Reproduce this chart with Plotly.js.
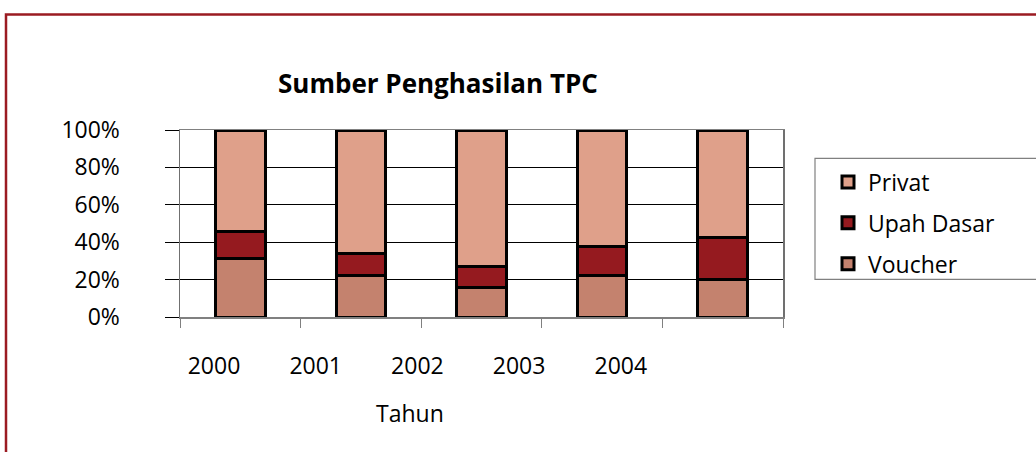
<!DOCTYPE html>
<html><head><meta charset="utf-8">
<script src="https://cdn.plot.ly/plotly-3.0.1.min.js"></script>
<style>html,body{margin:0;padding:0;background:#fff}#chart{width:1036px;height:452px}</style>
</head><body><div id="chart"></div>
<script>
const years = ['2000','2001','2002','2003','2004'];
const voucher = [31.5, 22.3, 16.0, 22.3, 20.0];
const upahDasar = [14.3, 11.9, 11.1, 15.6, 22.4];
const privat = [54.2, 65.8, 72.9, 62.1, 57.6];
const seriesNames = ['Voucher', 'Upah Dasar', 'Privat'];
const seriesColors = ['#C4826E', '#951A1F', '#DFA08A'];
const yTicks = [0, 20, 40, 60, 80, 100];

const W = 1036, H = 452;
const L = 180, R = 783, T = 129.5, B = 316.7;
const px = x => (x - L) / (R - L);
const py = y => (B - y) / (B - T);
const FONT = 'Open Sans, Noto Sans, sans-serif';
const FS = 23;

const values = [voucher, upahDasar, privat];
const traces = values.map((v, i) => ({
  type: 'bar', x: years, y: v, name: seriesNames[i], legendgroup: 'g' + i, legendrank: 3 - i,
  marker: {color: seriesColors[i], line: {color: '#000', width: 3}},
  width: 0.41, hoverinfo: 'x+y+name'
}));
traces.push({type: 'scatter', x: [0], y: [null], xaxis: 'x2', yaxis: 'y', showlegend: false, hoverinfo: 'skip', mode: 'markers'});

const layout = {
  width: W, height: H,
  margin: {l: L, r: W - R, t: T, b: H - B, pad: 0},
  paper_bgcolor: '#fff', plot_bgcolor: '#fff',
  barmode: 'stack', showlegend: true,
  font: {family: FONT, size: FS, color: '#000'},
  xaxis: {type: 'category', tickson: 'boundaries', ticks: 'outside', ticklen: 9, tickcolor: '#808080', tickwidth: 1,
    showticklabels: false, showline: true, linecolor: '#808080', linewidth: 1.5, mirror: true, showgrid: false, fixedrange: true},
  xaxis2: {overlaying: 'x', side: 'bottom', range: [-(214 - L) / 101.7, -(214 - L) / 101.7 + (R - L) / 101.7],
    tickvals: [0, 1, 2, 3, 4], ticktext: years, showgrid: false, zeroline: false, showline: false, ticks: '',
    ticklabelstandoff: 33, tickfont: {family: FONT, size: FS}, fixedrange: true},
  yaxis: {range: [0, 100], tickvals: yTicks, ticktext: yTicks.map(t => t + '%'), ticks: 'outside', ticklen: 14,
    tickcolor: '#000', tickwidth: 1, showgrid: true, gridcolor: '#000', gridwidth: 1, zeroline: false,
    showline: true, linecolor: '#707070', linewidth: 1.5, mirror: true, ticklabelstandoff: 40,
    tickfont: {family: FONT, size: FS}, fixedrange: true},
  legend: {x: px(828), xanchor: 'left', y: py(160), yanchor: 'top', bgcolor: 'rgba(0,0,0,0)', borderwidth: 0,
    traceorder: 'grouped', tracegroupgap: 8, font: {family: FONT, size: FS}, itemwidth: 30},
  annotations: [
    {text: '<b>Sumber Penghasilan TPC</b>', xref: 'paper', yref: 'paper', x: px(438), y: py(82), xanchor: 'center', yanchor: 'middle',
      showarrow: false, font: {family: FONT, size: 26}},
    {text: 'Tahun', xref: 'paper', yref: 'paper', x: px(410), y: py(413), xanchor: 'center', yanchor: 'middle',
      showarrow: false, font: {family: FONT, size: FS}}
  ],
  shapes: [
    {type: 'rect', xref: 'paper', yref: 'paper', x0: px(815), x1: px(1045), y0: py(158), y1: py(279),
      line: {color: '#808080', width: 1.2}, fillcolor: 'rgba(0,0,0,0)', layer: 'below'},
    {type: 'rect', xref: 'paper', yref: 'paper', x0: px(6), x1: px(1050), y0: py(14), y1: py(470),
      line: {color: '#9B1B22', width: 2.5}, fillcolor: 'rgba(0,0,0,0)', layer: 'below'}
  ]
};
Plotly.newPlot('chart', traces, layout, {displayModeBar: false, staticPlot: true});
</script></body></html>
